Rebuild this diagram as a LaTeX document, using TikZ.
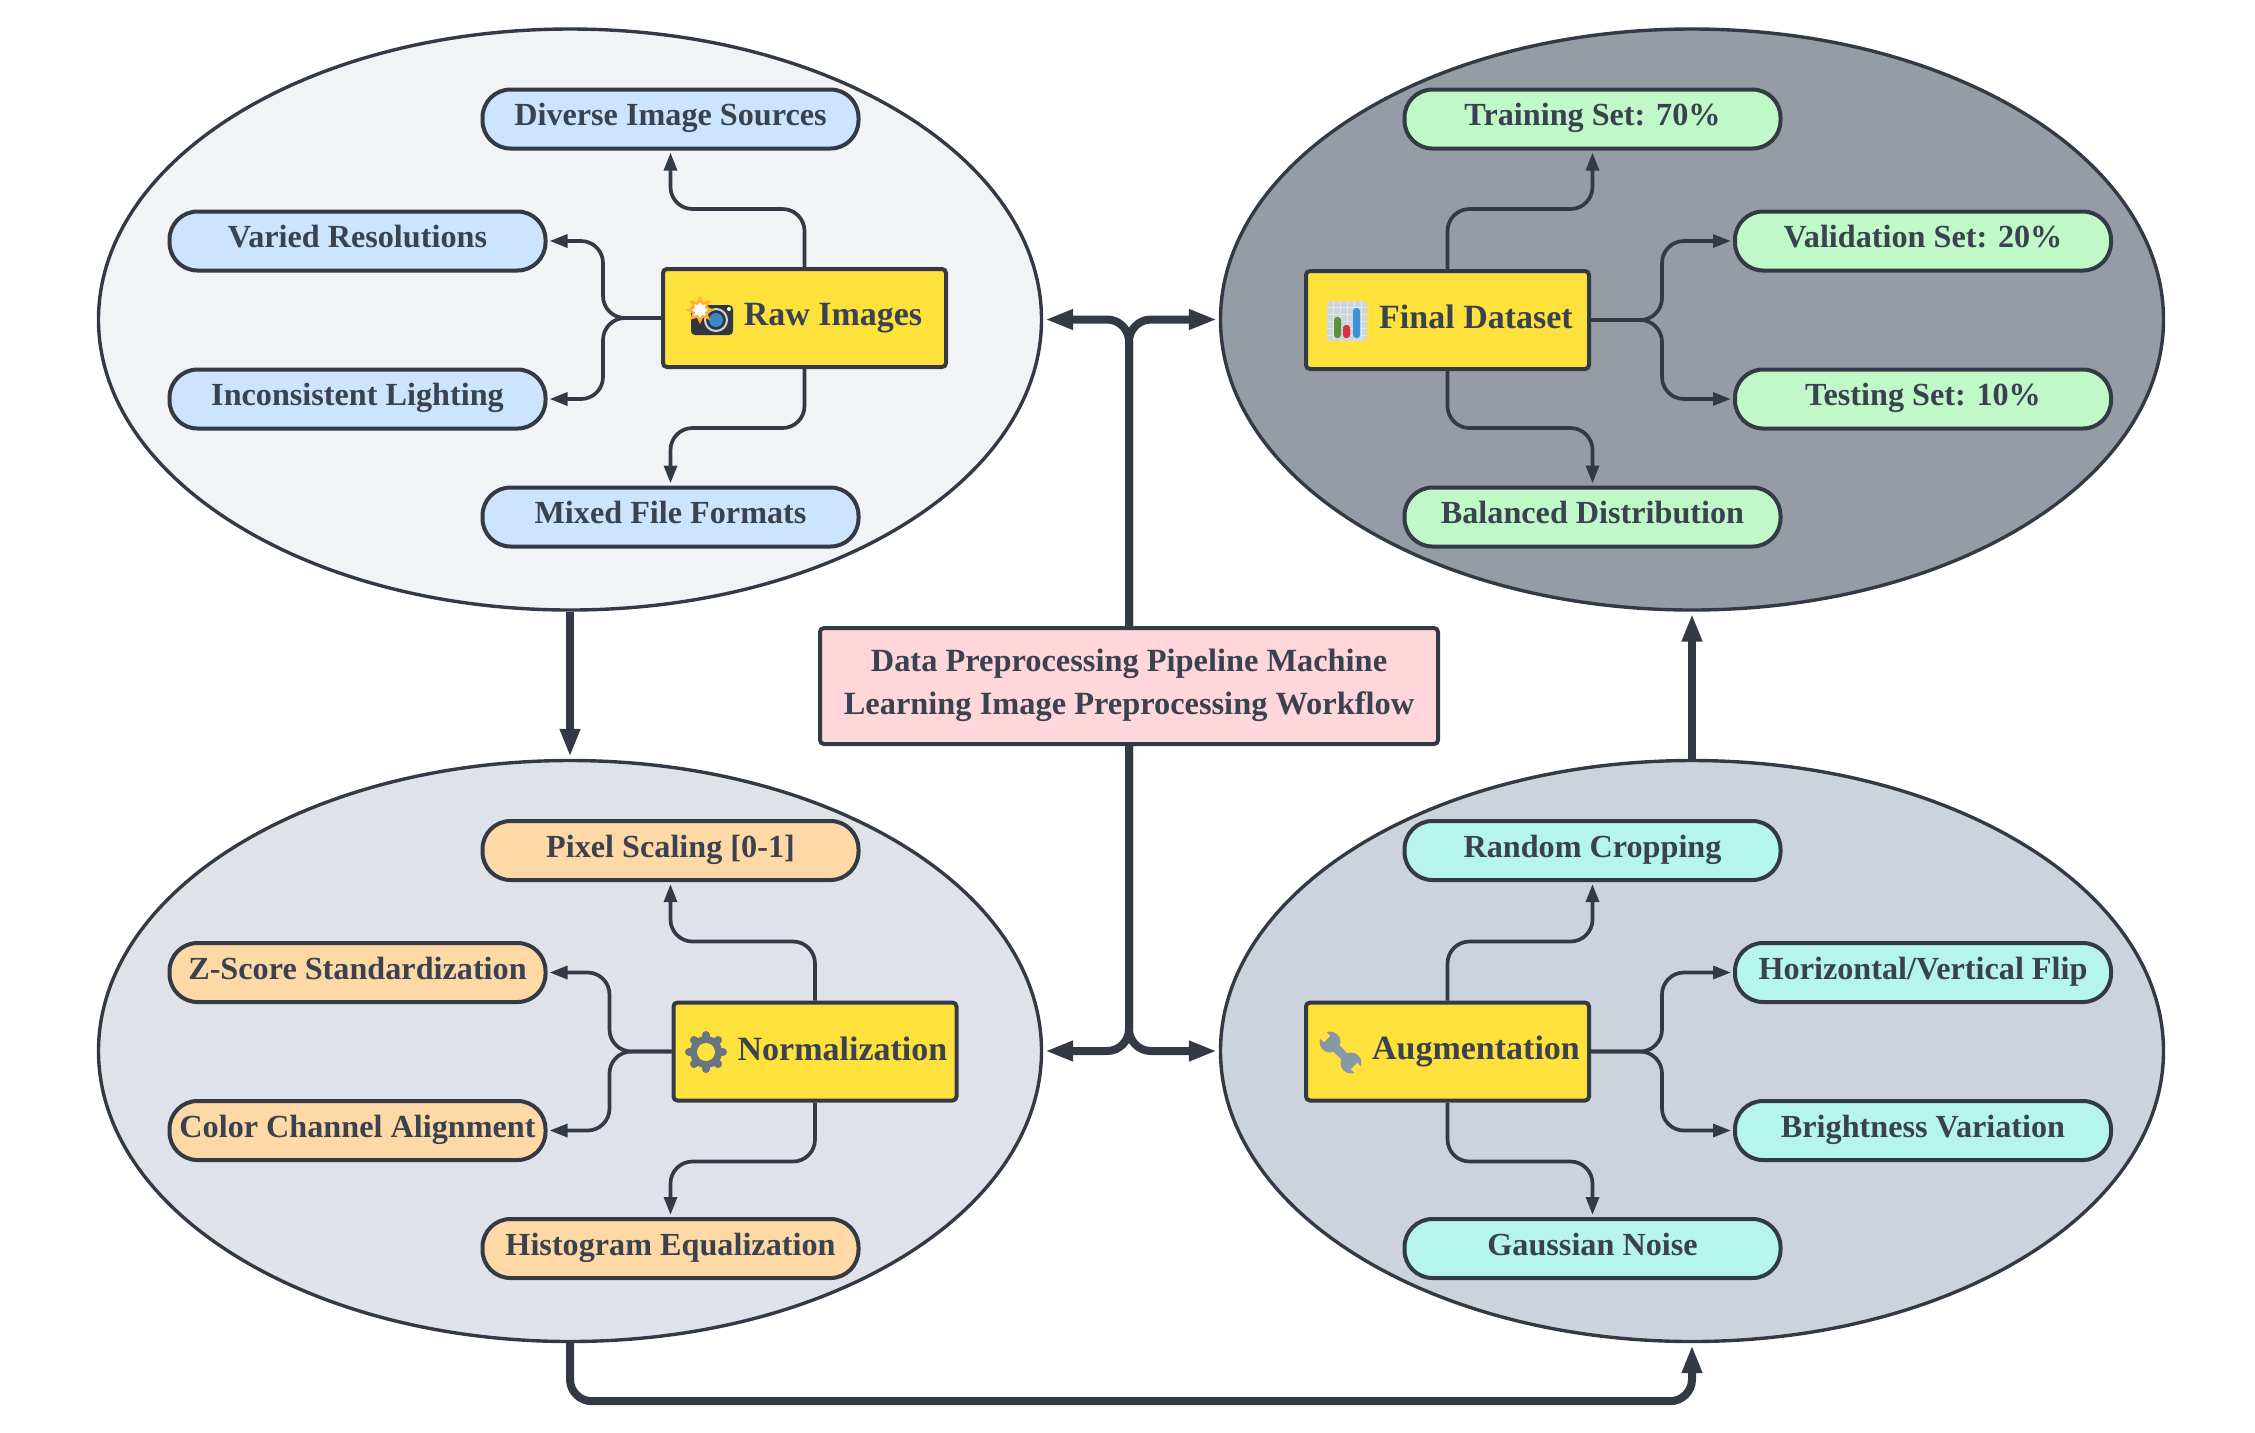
\documentclass[tikz,border=0pt]{standalone}
\usepackage{fontspec}
\setmainfont{Liberation Serif}
\usetikzlibrary{arrows.meta,shapes.geometric}
\definecolor{ink}{HTML}{333A45}
\definecolor{txt}{HTML}{3A4250}
\definecolor{ylw}{HTML}{FFE13C}
\definecolor{pinkbox}{HTML}{FFD6D9}
\definecolor{gearc}{HTML}{66757F}
\definecolor{wrc}{HTML}{8899A6}
\tikzset{
  x=0.5pt,y=-0.5pt,
  group/.style={ellipse,draw=ink,line width=1.7pt,inner sep=0pt,minimum width=471.5pt,minimum height=290.5pt},
  pill/.style={draw=ink,line width=2pt,rectangle,rounded corners=14pt,inner sep=0pt,minimum width=188pt,minimum height=29.5pt,
     text=txt,font=\fontsize{16.1}{18}\selectfont\bfseries},
  hub/.style={draw=ink,line width=2pt,rectangle,rounded corners=2pt,fill=ylw,inner sep=0pt,minimum width=141.5pt,minimum height=49pt,
     text=txt,font=\fontsize{17}{18}\selectfont\bfseries},
  title/.style={draw=ink,line width=2pt,rectangle,rounded corners=2pt,fill=pinkbox,inner sep=0pt,minimum width=309pt,minimum height=58pt,
     text=txt,align=center,font=\fontsize{16.2}{21.6}\selectfont\bfseries},
  thinedge/.style={draw=ink,line width=1.85pt,rounded corners=11pt,-{Triangle[length=9pt,width=6.4pt]},shorten >=1pt},
  thickedge/.style={draw=ink,line width=4pt,rounded corners=11pt,-{Triangle[length=14pt,width=9.5pt]},shorten >=1pt},
}
\newcommand{\up}[1]{\raisebox{4.4pt}{#1}}
\newcommand{\upb}[1]{\raisebox{3pt}{#1}}
\newcommand{\upc}[1]{\raisebox{3.9pt}{#1}}
\begin{document}
\begin{tikzpicture}
\useasboundingbox (0,0) rectangle (2255,1432);
\fill[white] (0,0) rectangle (2255,1432);
% group ellipses
\node[group,fill={rgb,255:red,242;green,243;blue,245}] (tl) at (570,319.5) {};
\node[group,fill={rgb,255:red,150;green,156;blue,166}] (tr) at (1692,319.5) {};
\node[group,fill={rgb,255:red,223;green,226;blue,232}] (bl) at (570,1051) {};
\node[group,fill={rgb,255:red,205;green,211;blue,220}] (br) at (1692,1051) {};
% title
\node[title] (ctr) at (1129,686) {\upc{Data Preprocessing Pipeline Machine}\\\upc{Learning Image Preprocessing Workflow}};
% hubs
\node[hub] (raw) at (804.5,318) {\upb{\hspace*{28.5pt}Raw Images}};
\node[hub] (fin) at (1447.5,320) {\upb{\hspace*{28.5pt}Final Dataset}};
\node[hub] (nor) at (815,1051.5) {\upb{\hspace*{27.5pt}Normalization}};
\node[hub] (aug) at (1447.5,1051.5) {\upb{\hspace*{28.5pt}Augmentation}};
% pills
\tikzset{pa/.style={pill,fill={rgb,255:red,205;green,228;blue,255}},
 pb/.style={pill,fill={rgb,255:red,193;green,248;blue,200}},
 pc/.style={pill,fill={rgb,255:red,254;green,217;blue,166}},
 pd/.style={pill,fill={rgb,255:red,181;green,245;blue,234}}}
\node[pa] (a1) at (670.5,119) {\up{Diverse Image Sources}};
\node[pa] (a2) at (357.5,241) {\up{Varied Resolutions}};
\node[pa] (a3) at (357.5,399) {\up{Inconsistent Lighting}};
\node[pa] (a4) at (670.5,517) {\up{Mixed File Formats}};
\node[pb] (b1) at (1592.5,119) {\up{Training Set: 70\%}};
\node[pb] (b2) at (1923,241) {\up{Validation Set: 20\%}};
\node[pb] (b3) at (1923,399) {\up{Testing Set: 10\%}};
\node[pb] (b4) at (1592.5,517) {\up{Balanced Distribution}};
\node[pc] (c1) at (670.5,850.5) {\up{Pixel Scaling [0-1]}};
\node[pc] (c2) at (357.5,972.5) {\up{Z-Score Standardization}};
\node[pc] (c3) at (357.5,1130.5) {\up{Color Channel Alignment}};
\node[pc] (c4) at (670.5,1248.5) {\up{Histogram Equalization}};
\node[pd] (d1) at (1592.5,850.5) {\up{Random Cropping}};
\node[pd] (d2) at (1923,972.5) {\up{Horizontal/Vertical Flip}};
\node[pd] (d3) at (1923,1130.5) {\up{Brightness Variation}};
\node[pd] (d4) at (1592.5,1248.5) {\up{Gaussian Noise}};
% thin edges
\draw[thinedge] (raw.north) -- +(0,-58) -| (a1.south);
\draw[thinedge] (raw.west) -- +(-58,0) |- (a2.east);
\draw[thinedge] (raw.west) -- +(-58,0) |- (a3.east);
\draw[thinedge] (raw.south) -- +(0,59) -| (a4.north);
\draw[thinedge] (fin.north) -- +(0,-60) -| (b1.south);
\draw[thinedge] (fin.east) -- +(71,0) |- (b2.west);
\draw[thinedge] (fin.east) -- +(71,0) |- (b3.west);
\draw[thinedge] (fin.south) -- +(0,57) -| (b4.north);
\draw[thinedge] (nor.north) -- +(0,-59) -| (c1.south);
\draw[thinedge] (nor.west) -- +(-62,0) |- (c2.east);
\draw[thinedge] (nor.west) -- +(-62,0) |- (c3.east);
\draw[thinedge] (nor.south) -- +(0,59) -| (c4.north);
\draw[thinedge] (aug.north) -- +(0,-59) -| (d1.south);
\draw[thinedge] (aug.east) -- +(71,0) |- (d2.west);
\draw[thinedge] (aug.east) -- +(71,0) |- (d3.west);
\draw[thinedge] (aug.south) -- +(0,59) -| (d4.north);
% thick edges
\draw[thickedge] (ctr.north) |- (tl.east);
\draw[thickedge] (ctr.north) |- (tr.west);
\draw[thickedge] (ctr.south) |- (bl.east);
\draw[thickedge] (ctr.south) |- (br.west);
\draw[thickedge] (tl.south) -- (bl.north);
\draw[thickedge] (br.north) -- (tr.south);
\draw[thickedge] (bl.south) -- +(0,58) -| (br.south);
% camera icon
\fill[fill={rgb,255:red,49;green,55;blue,61},rounded corners=2pt] (691,305) rectangle (733,335);
\draw[line width=1pt,draw={rgb,255:red,204;green,214;blue,221}] (716,320) circle (11);
\fill[fill={rgb,255:red,59;green,136;blue,195}] (716,320) circle (7);
\fill[white] (729,309) circle (2);
\node[star,star points=8,star point ratio=1.7,fill={rgb,255:red,255;green,172;blue,51},inner sep=0pt,minimum size=14pt] (burst) at (700,310) {};
\node[star,star points=8,star point ratio=1.5,fill=white,inner sep=0pt,minimum size=8pt] (burstin) at (700,310) {};
% chart icon
\fill[fill={rgb,255:red,204;green,214;blue,221},rounded corners=2pt] (1327,301) rectangle (1367,341);
\foreach \g in {1333,1340,1347,1354,1361}{\draw[line width=.5pt,draw={rgb,255:red,225;green,232;blue,237}] (\g,301) -- (\g,341);}
\foreach \g in {307,314,321,328,335}{\draw[line width=.5pt,draw={rgb,255:red,225;green,232;blue,237}] (1327,\g) -- (1367,\g);}
\fill[fill={rgb,255:red,92;green,145;blue,59},rounded corners=1.5pt] (1334,338) -- (1334,317) -- (1341,317) -- (1341,338) -- cycle;
\fill[fill={rgb,255:red,221;green,46;blue,68},rounded corners=1.5pt] (1343,338) -- (1343,325) -- (1350,325) -- (1350,338) -- cycle;
\fill[fill={rgb,255:red,59;green,148;blue,217},rounded corners=1.5pt] (1353,338) -- (1353,308) -- (1360,308) -- (1360,338) -- cycle;
% gear icon
\foreach \a in {0,45,...,315}{\draw[draw=gearc,line width=4pt,line cap=round] (706,1052) -- ++(\a:17);}
\fill[gearc] (706,1052) circle (16);
\fill[ylw] (706,1052) circle (9);
% wrench icon
\draw[draw=wrc,line width=4.3pt] (1330,1042) -- (1351,1063);
\fill[wrc] (1330,1042) circle (10.5);
\fill[wrc] (1351,1063) circle (10.5);
\fill[ylw] (1330.2,1035.8) -- (1323.8,1042.2) -- (1313.8,1032.2) -- (1320.2,1025.8) -- cycle;
\fill[ylw] (1357.2,1062.8) -- (1350.8,1069.2) -- (1360.8,1079.2) -- (1367.2,1072.8) -- cycle;
\end{tikzpicture}
\end{document}
